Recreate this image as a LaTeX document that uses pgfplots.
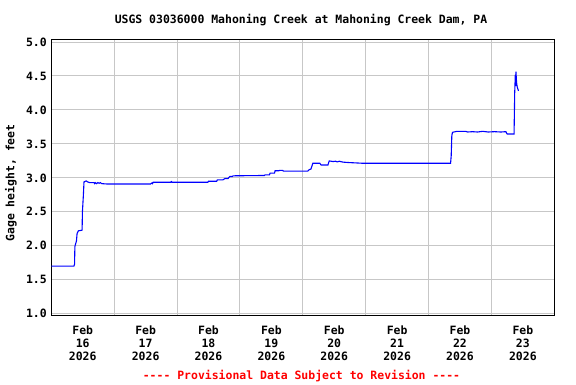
\documentclass[border=0pt]{standalone}
\usepackage{fontspec}
\newfontfamily\usgs{DejaVu Sans Mono}
\usepackage{pgfplots}
\pgfplotsset{compat=1.18}
\begin{document}
\begin{tikzpicture}[x=1bp,y=1bp]
\begin{axis}[
  at={(0,0)}, anchor=south west,
  scale only axis, width=503bp, height=276.4bp,
  xmin=0, xmax=8, ymin=0.9705, ymax=5.04,
  xtick={0.5,1.5,2.5,3.5,4.5,5.5,6.5,7.5},
  xticklabels={{Feb\\16\\2026},{Feb\\17\\2026},{Feb\\18\\2026},{Feb\\19\\2026},{Feb\\20\\2026},{Feb\\21\\2026},{Feb\\22\\2026},{Feb\\23\\2026}},
  minor xtick={1,2,3,4,5,6,7},
  ytick={1,1.5,2,2.5,3,3.5,4,4.5,5},
  xmajorgrids=false, xminorgrids=true, ymajorgrids=true,
  grid style={draw=black!22, line width=1bp},
  minor grid style={draw=black!22, line width=1bp},
  major tick length=0pt, minor tick length=0pt,
  axis line style={line width=1.3bp, black},
  xticklabel style={font=\usgs\bfseries\fontsize{11.5}{13}\selectfont, align=center, yshift=-7bp},
  yticklabel style={font=\usgs\bfseries\fontsize{11.5}{13}\selectfont, xshift=-1bp, /pgf/number format/.cd, fixed, fixed zerofill, precision=1, assume math mode=true},
  clip=true,
]
\addplot[blue, line width=1.1bp] coordinates {
(0,1.70) (0.36,1.70) (0.37,1.73) (0.375,1.99) (0.40,2.07) (0.41,2.18) (0.43,2.22) (0.49,2.23)
(0.495,2.50) (0.51,2.74) (0.52,2.94) (0.555,2.955) (0.58,2.94) (0.61,2.93) (0.68,2.93)
(0.69,2.915) (0.70,2.93) (0.72,2.915) (0.74,2.93) (0.76,2.92) (0.78,2.93) (0.80,2.915)
(0.88,2.91) (1.58,2.91) (1.60,2.925) (1.61,2.915) (1.62,2.935) (1.90,2.935) (1.91,2.945) (1.92,2.935)
(2.49,2.935) (2.50,2.95) (2.63,2.95) (2.64,2.97) (2.73,2.97) (2.76,2.99) (2.81,2.99)
(2.84,3.02) (2.88,3.02) (2.89,3.03) (3.39,3.035) (3.40,3.045) (3.47,3.045) (3.48,3.07)
(3.55,3.07) (3.56,3.105) (3.62,3.105) (3.63,3.11) (3.68,3.11) (3.69,3.10) (4.08,3.10)
(4.10,3.12) (4.13,3.13) (4.16,3.215) (4.27,3.215) (4.29,3.19) (4.40,3.19) (4.42,3.25)
(4.48,3.24) (4.52,3.245) (4.55,3.235) (4.58,3.245) (4.62,3.235) (4.66,3.23) (4.74,3.225) (4.95,3.215)
(6.35,3.215) (6.36,3.32) (6.37,3.62) (6.38,3.67) (6.45,3.685) (6.59,3.685) (6.62,3.675)
(6.70,3.68) (6.78,3.675) (6.86,3.685) (6.95,3.675) (7.05,3.68) (7.15,3.675) (7.23,3.68)
(7.25,3.645) (7.36,3.645) (7.37,4.25) (7.38,4.52) (7.385,4.35) (7.39,4.565) (7.40,4.40)
(7.41,4.34) (7.43,4.28)
};
\end{axis}
\node[font=\usgs\bfseries\fontsize{11.5}{13}\selectfont] at (249.7,295.7) {USGS 03036000 Mahoning Creek at Mahoning Creek Dam, PA};
\node[font=\usgs\bfseries\fontsize{11.5}{13}\selectfont, rotate=90] at (-40.3,132.7) {Gage height, feet};
\node[font=\usgs\bfseries\fontsize{11.5}{13}\selectfont, text=red] at (250.2,-60.8) {---- Provisional Data Subject to Revision ----};
\pgfresetboundingbox
\useasboundingbox (-51.3,-68.3) rectangle (524.7,315.7);
\end{tikzpicture}
\end{document}
